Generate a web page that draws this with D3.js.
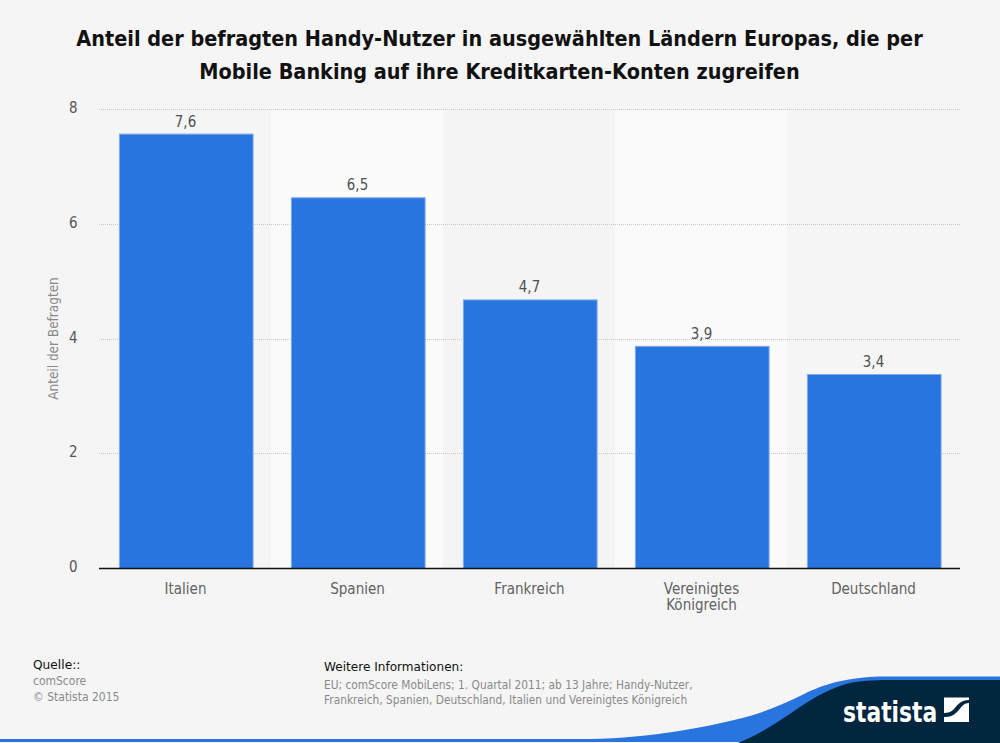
<!DOCTYPE html>
<html><head><meta charset="utf-8">
<script src="https://cdn.jsdelivr.net/npm/d3@7"></script>
<style>html,body{margin:0;padding:0;background:#f5f5f5}svg{display:block}
text{font-family:"DejaVu Sans",sans-serif}</style></head>
<body><div id="c"></div>
<script>
const categories = ["Italien","Spanien","Frankreich","Vereinigtes Königreich","Deutschland"];
const values = [7.58,6.47,4.69,3.88,3.39];
const yTicks = [0,2,4,6,8];
const titleLines = ["Anteil der befragten Handy-Nutzer in ausgewählten Ländern Europas, die per","Mobile Banking auf ihre Kreditkarten-Konten zugreifen"];
const yLabel = "Anteil der Befragten";
const sourceLines = ["comScore","© Statista 2015"];
const infoLines = ["EU; comScore MobiLens; 1. Quartal 2011; ab 13 Jahre; Handy-Nutzer,","Frankreich, Spanien, Deutschland, Italien und Vereinigtes Königreich"];

const W=1000,H=743;
const svg=d3.select("#c").append("svg").attr("width",W).attr("height",H);
svg.append("rect").attr("width",W).attr("height",H).attr("fill","#f5f5f5");
const x=d3.scaleBand().domain(categories).range([100,960]).paddingInner(0.22).paddingOuter(0.11);
const step=x.step();
const y=d3.scaleLinear().domain([0,8]).range([568.5,109.5]);
const cx=d=>x(d)+x.bandwidth()/2;
const place=(sel,xf,yf,sx)=>sel.attr("transform",(d,i)=>`translate(${xf(d,i)},${yf(d,i)}) scale(${sx},1)`);

// alternating bands
const bandFill=["none","#fafafa","#f4f4f4","#fafafa","none"];
svg.append("g").selectAll("rect").data(categories).join("rect")
 .attr("x",d=>x(d)-x.paddingOuter()*step-1).attr("width",step).attr("y",110).attr("height",458)
 .attr("fill",(d,i)=>bandFill[i]);

// grid
svg.append("g").selectAll("line").data(yTicks.filter(d=>d>0)).join("line")
 .attr("x1",99).attr("x2",960).attr("y1",d=>Math.floor(y(d))+.5).attr("y2",d=>Math.floor(y(d))+.5)
 .attr("stroke","#c8c8c8").attr("stroke-width",1).attr("stroke-dasharray","1,1");

// bars
svg.append("g").selectAll("rect").data(categories).join("rect")
 .attr("x",d=>x(d)+.5).attr("width",x.bandwidth()-.5)
 .attr("y",(d,i)=>y(values[i])+.5).attr("height",(d,i)=>y(0)-y(values[i])-.5)
 .attr("fill","#2975e0").attr("stroke","#7fa9ea").attr("stroke-width",1);

// baseline
svg.append("line").attr("x1",99).attr("x2",960).attr("y1",568.5).attr("y2",568.5).attr("stroke","#111").attr("stroke-width",1.3);

// y ticks
place(svg.append("g").selectAll("text").data(yTicks).join("text")
 .attr("text-anchor","end").attr("font-size",16).attr("fill","#555").text(d=>d),
 ()=>77.5,d=>y(d)+3.7,.84);

// value labels
place(svg.append("g").selectAll("text").data(categories).join("text")
 .attr("text-anchor","middle").attr("font-size",16).attr("fill","#505050")
 .text((d,i)=>values[i].toFixed(1).replace(".",",")),
 d=>cx(d)-.5,(d,i)=>y(values[i])-7,.84);

// x labels
const xl=svg.append("g").selectAll("text").data(categories).join("text")
 .attr("text-anchor","middle").attr("font-size",16).attr("fill","#626262");
xl.selectAll("tspan").data(d=>d.split(" ")).join("tspan")
 .attr("x",0).attr("dy",(d,i)=>i?16:0).text(d=>d);
place(xl,d=>cx(d)-.5,()=>594,.845);

// y label
svg.append("text").attr("transform","translate(57.5,338.5) rotate(-90) scale(.865,1)").attr("text-anchor","middle")
 .attr("font-size",14).attr("fill","#8a8a8a").text(yLabel);

// title
place(svg.append("g").selectAll("text").data(titleLines).join("text")
 .attr("text-anchor","middle").attr("font-size",21).attr("font-weight","bold").attr("fill","#111").text(d=>d),
 ()=>499.5,(d,i)=>46+i*32.5,.92);

// footer
place(svg.append("text").datum(0).attr("font-size",13).attr("fill","#111").text("Quelle::"),()=>33,()=>669,.94);
place(svg.append("g").selectAll("text").data(sourceLines).join("text")
 .attr("font-size",13).attr("fill","#8a8a8a").text(d=>d),()=>33,(d,i)=>685+i*16,.83);
place(svg.append("text").datum(0).attr("font-size",13).attr("fill","#111").text("Weitere Informationen:"),()=>324,()=>671,.93);
place(svg.append("g").selectAll("text").data(infoLines).join("text")
 .attr("font-size",13).attr("fill","#8a8a8a").text(d=>d),()=>324,(d,i)=>689+i*15,.818);

// footer swoosh
svg.append("path").attr("fill","#2975e0")
 .attr("d","M0,739 H590 C650,738 710,727 750,716 C770,710 785,703 800,696 C820,686 840,678 880,676.5 H1000 V742 H0 Z");
svg.append("path").attr("fill","#03263f")
 .attr("d","M738,743 C760,735 785,717 800,707 C815,697 830,688 850,683 C860,681 870,680 890,680 H1000 V743 Z");
svg.append("text").attr("transform","translate(843,721.5) scale(.78,1)").attr("font-weight","bold")
 .attr("font-size",28).attr("fill","#fff").text("statista");
svg.append("path").attr("fill","#fff")
 .attr("d","M944,697.5 H969 V700 C960,700 957,706 953,710 C951,712 948,713 944,713 Z M969,703 V722 H944 V717 C950,717 953,716 957,712 C961,708 963,703 969,703 Z");
</script></body></html>
